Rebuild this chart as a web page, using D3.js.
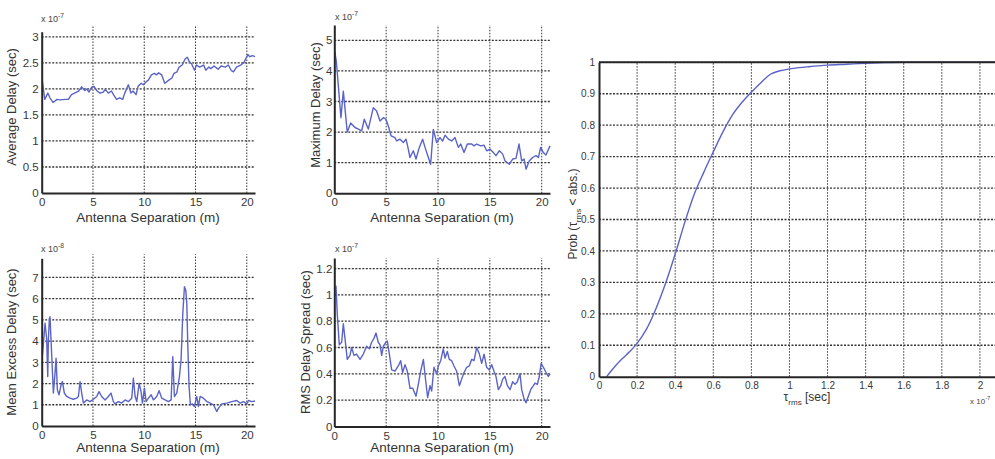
<!DOCTYPE html>
<html>
<head>
<meta charset="utf-8">
<script src="https://cdn.jsdelivr.net/npm/d3@7"></script>
<style>
  html, body { margin: 0; padding: 0; background: #fff; }
  svg { display: block; font-family: "Liberation Sans", Arial, sans-serif; }
  .tick text { fill: #383838; }
</style>
</head>
<body>
<svg id="fig" width="995" height="459"></svg>
<script>
// Antenna separation (m) and measured delay statistics
const avgSep = [0.07,0.3,0.6,0.8,1.1,1.5,1.8,2.3,2.6,2.9,3.2,3.6,3.9,4.2,4.4,4.6,4.9,5.1,5.4,5.7,6.0,6.2,6.5,6.8,7.0,7.3,7.6,7.9,8.1,8.45,8.7,8.9,9.2,9.4,9.7,9.9,10.2,10.4,10.7,11.0,11.2,11.4,11.7,12.0,12.4,12.7,12.9,13.2,13.4,13.7,14.0,14.2,14.4,14.6,14.9,15.1,15.4,15.8,16.0,16.3,16.5,16.8,17.2,17.5,17.9,18.2,18.5,18.7,19.0,19.4,19.7,19.9,20.1,20.3,20.55,20.8];
const avgDelay = [2.14,1.80,1.92,1.83,1.74,1.80,1.79,1.80,1.80,1.89,1.92,1.96,2.04,1.97,2.0,1.94,2.04,2.05,1.96,1.92,1.94,1.99,1.92,1.96,1.89,1.80,1.83,1.80,1.92,2.08,1.92,1.96,1.89,2.05,2.11,2.08,2.14,2.17,2.27,2.30,2.27,2.31,2.27,2.11,2.17,2.21,2.30,2.33,2.42,2.46,2.58,2.61,2.52,2.49,2.36,2.46,2.42,2.46,2.36,2.42,2.39,2.44,2.38,2.44,2.42,2.46,2.35,2.33,2.42,2.46,2.50,2.58,2.66,2.62,2.64,2.62];

const maxSep = [0.05,0.2,0.64,0.87,1.25,1.58,1.99,2.32,2.64,2.89,3.28,3.76,4.08,4.41,4.73,4.98,5.21,5.47,5.85,6.01,6.33,6.66,6.91,7.07,7.3,7.62,7.88,8.2,8.52,8.75,9.07,9.29,9.55,9.87,10.19,10.45,10.68,11.0,11.32,11.64,11.96,12.19,12.51,12.83,13.25,13.47,13.73,14.12,14.44,14.69,15.02,15.34,15.59,15.92,16.24,16.46,16.88,17.2,17.52,17.81,18.07,18.3,18.49,18.81,19.13,19.45,19.68,19.9,20.16,20.41,20.8];
const maxDelay = [4.62,4.3,2.47,3.34,2.0,2.3,2.15,2.1,2.04,2.42,2.1,2.8,2.69,2.36,2.47,2.42,2.2,1.88,1.82,1.71,1.77,1.66,1.77,1.55,1.17,1.39,1.12,1.5,1.77,1.5,1.17,0.95,2.09,1.66,1.82,1.71,1.9,1.77,1.71,1.82,1.5,1.61,1.33,1.61,1.61,1.55,1.61,1.55,1.57,1.39,1.44,1.33,1.23,1.39,1.28,1.06,0.95,1.12,1.14,1.61,1.06,1.12,0.79,1.06,1.17,1.23,1.17,1.5,1.33,1.25,1.55];

const mexSep = [0.07,0.33,0.49,0.59,0.65,0.75,0.81,0.91,1.04,1.14,1.30,1.40,1.53,1.69,1.89,2.02,2.21,2.44,2.76,3.09,3.41,3.58,3.74,3.90,4.07,4.39,4.72,5.04,5.37,5.59,5.85,6.18,6.50,6.76,6.99,7.15,7.48,7.80,8.13,8.46,8.78,8.94,9.11,9.27,9.50,9.69,9.82,10.02,10.18,10.41,10.67,10.89,11.22,11.45,11.71,12.03,12.36,12.62,12.78,12.94,13.17,13.43,13.59,13.76,13.92,14.05,14.15,14.24,14.37,14.50,14.70,14.89,15.12,15.28,15.45,15.77,16.10,16.42,16.75,17.07,17.24,17.56,18.05,18.54,19.02,19.35,19.67,20.0,20.16,20.49,20.8];
const mexDelay = [3.35,4.84,4.05,2.33,4.05,5.07,5.15,4.05,2.64,1.55,2.49,3.19,1.70,1.47,1.94,2.09,1.55,1.39,1.31,1.26,1.31,1.39,2.09,1.55,1.08,1.23,1.15,1.26,1.39,1.62,1.39,1.23,1.39,1.55,1.15,1.04,1.15,1.08,1.23,1.15,1.31,2.25,1.39,1.15,2.02,1.62,1.08,1.78,1.15,1.31,1.47,1.23,1.39,1.66,1.31,1.23,1.15,1.23,3.27,1.39,1.55,2.33,3.11,5.31,6.56,6.40,5.78,3.9,1.86,1.0,1.04,0.92,1.39,0.92,1.39,1.31,1.15,1.08,1.0,0.68,0.84,1.04,1.08,1.15,1.2,1.08,1.15,1.04,1.2,1.15,1.18];

const rmsSep = [0.16,0.29,0.48,0.71,0.87,1.03,1.25,1.51,1.67,1.90,2.15,2.48,2.80,3.12,3.38,3.60,3.83,4.02,4.24,4.41,4.57,4.73,4.98,5.11,5.31,5.53,5.85,6.17,6.40,6.59,6.82,7.04,7.30,7.56,7.88,8.10,8.33,8.59,8.78,9.00,9.23,9.39,9.61,9.87,10.03,10.26,10.51,10.68,10.90,11.09,11.32,11.54,11.80,12.06,12.28,12.51,12.77,13.02,13.25,13.47,13.73,13.99,14.21,14.44,14.69,14.95,15.18,15.40,15.59,15.82,16.05,16.24,16.46,16.69,16.95,17.20,17.43,17.65,17.91,18.07,18.30,18.49,18.71,18.94,19.20,19.36,19.58,19.77,19.94,20.16,20.42,20.64,20.80];
const rmsSpread = [1.07,0.85,0.62,0.64,0.78,0.67,0.51,0.54,0.60,0.54,0.55,0.51,0.55,0.61,0.59,0.64,0.67,0.71,0.64,0.62,0.54,0.61,0.64,0.65,0.55,0.43,0.42,0.46,0.50,0.41,0.47,0.42,0.29,0.29,0.23,0.32,0.42,0.51,0.37,0.22,0.31,0.27,0.45,0.40,0.46,0.50,0.59,0.52,0.57,0.51,0.50,0.46,0.42,0.31,0.36,0.41,0.45,0.46,0.51,0.50,0.60,0.55,0.48,0.55,0.45,0.43,0.47,0.42,0.38,0.28,0.31,0.36,0.38,0.31,0.28,0.34,0.32,0.34,0.40,0.28,0.21,0.18,0.23,0.28,0.31,0.33,0.32,0.38,0.48,0.45,0.41,0.38,0.40];

// Cumulative distribution of the RMS delay spread (x 1e-7 s)
const tauRms = [0.04,0.08,0.12,0.16,0.2,0.25,0.3,0.35,0.4,0.45,0.5,0.55,0.6,0.65,0.7,0.75,0.8,0.85,0.9,0.95,1.0,1.05,1.1,1.2,1.3,1.4,1.5,1.6,1.8,2.0,2.2];
const probTau = [0,0.03,0.056,0.079,0.106,0.152,0.218,0.298,0.39,0.49,0.58,0.65,0.715,0.778,0.832,0.872,0.905,0.935,0.962,0.973,0.979,0.983,0.986,0.991,0.994,0.997,0.999,1,1,1,1];

// Tick values and labels
const sepTicks = [0, 5, 10, 15, 20];
const sepTickLabels = ["0", "5", "10", "15", "20"];
const avgTicks = [0, 0.5, 1, 1.5, 2, 2.5, 3];
const avgTickLabels = ["0", "0.5", "1", "1.5", "2", "2.5", "3"];
const maxTicks = [0, 1, 2, 3, 4, 5];
const maxTickLabels = ["0", "1", "2", "3", "4", "5"];
const mexTicks = [0, 1, 2, 3, 4, 5, 6, 7];
const mexTickLabels = ["0", "1", "2", "3", "4", "5", "6", "7"];
const rmsTicks = [0, 0.2, 0.4, 0.6, 0.8, 1, 1.2];
const rmsTickLabels = ["0", "0.2", "0.4", "0.6", "0.8", "1", "1.2"];
const tauTicks = [0, 0.2, 0.4, 0.6, 0.8, 1, 1.2, 1.4, 1.6, 1.8, 2];
const tauTickLabels = ["0", "0.2", "0.4", "0.6", "0.8", "1", "1.2", "1.4", "1.6", "1.8", "2"];
const probTicks = [0, 0.1, 0.2, 0.3, 0.4, 0.5, 0.6, 0.7, 0.8, 0.9, 1];
const probTickLabels = ["0", "0.1", "0.2", "0.3", "0.4", "0.5", "0.6", "0.7", "0.8", "0.9", "1"];

const LINE = "#5a63c6";
const AXIS = "#262626";
const GRID = "#333";

const svg = d3.select("#fig");
svg.append("rect").attr("width", 995).attr("height", 459).attr("fill", "#fff");

function drawPanel(p) {
  const x = d3.scaleLinear().domain(p.xd).range([p.left, p.right]);
  const y = d3.scaleLinear().domain(p.yd).range([p.bottom, p.top]);
  const g = svg.append("g");

  // dotted grid
  g.selectAll(".vg").data(p.xt.filter(d => d > 0)).join("line")
    .attr("x1", d => x(d)).attr("x2", d => x(d))
    .attr("y1", p.bottom).attr("y2", p.top - (p.gridOver || 0))
    .attr("stroke", GRID).attr("stroke-width", 1).attr("stroke-dasharray", "1.5,1.5");
  g.selectAll(".hg").data(p.yt.filter(d => d > 0)).join("line")
    .attr("x1", p.left).attr("x2", p.right)
    .attr("y1", d => y(d)).attr("y2", d => y(d))
    .attr("stroke", GRID).attr("stroke-width", 1.3).attr("stroke-dasharray", "2,1.5");

  // data line
  const line = d3.line().x((d, i) => x(p.xs[i])).y(d => y(d));
  if (p.curve) line.curve(p.curve);
  g.append("path").datum(p.ys)
    .attr("d", line).attr("fill", "none")
    .attr("stroke", LINE).attr("stroke-width", 1.4).attr("stroke-linejoin", "round");

  // axes
  const xa = g.append("g").attr("transform", `translate(0,${p.bottom})`)
    .call(d3.axisBottom(x).tickValues(p.xt).tickFormat((d, i) => p.xtl[i])
      .tickSize(0).tickSizeOuter(0).tickPadding(p.xPad || 5));
  const ya = g.append("g").attr("transform", `translate(${p.left},0)`)
    .call(d3.axisLeft(y).tickValues(p.yt).tickFormat((d, i) => p.ytl[i])
      .tickSize(0).tickSizeOuter(0).tickPadding(p.yPad || 3));
  [xa, ya].forEach(a => {
    a.select(".domain").attr("stroke", AXIS).attr("stroke-width", 2);
    a.selectAll("text").attr("font-size", p.tickSize || 11.5)
      .attr("font-family", "Liberation Sans, Arial, sans-serif");
  });
  if (p.box) {
    g.append("line").attr("x1", p.left).attr("x2", p.right)
      .attr("y1", p.top).attr("y2", p.top)
      .attr("stroke", AXIS).attr("stroke-width", 2);
  }
  return { g, x, y };
}

function expLabel(xp, yp, power, size) {
  const t = svg.append("text").attr("x", xp).attr("y", yp)
    .attr("font-size", size).attr("fill", "#444");
  t.append("tspan").text("x 10");
  t.append("tspan").attr("dy", -4).attr("font-size", size * 0.75).text(power);
}

function xTitle(xp, yp, text, size) {
  svg.append("text").attr("x", xp).attr("y", yp).attr("text-anchor", "middle")
    .attr("font-size", size).attr("fill", "#333").text(text);
}

function yTitle(xp, yp, text, size) {
  svg.append("text").attr("transform", `translate(${xp},${yp}) rotate(-90)`)
    .attr("text-anchor", "middle").attr("font-size", size).attr("fill", "#333").text(text);
}

// Average delay
drawPanel({ left: 41.7, right: 255, top: 31.7, bottom: 193, xd: [0, 20.8], yd: [0, 3.1],
  xt: sepTicks, xtl: sepTickLabels, yt: avgTicks, ytl: avgTickLabels,
  xs: avgSep, ys: avgDelay, gridOver: 6 });
expLabel(41, 22, "-7", 9);
xTitle(148, 222, "Antenna Separation (m)", 13.5);
yTitle(16, 107, "Average Delay (sec)", 13);

// Maximum delay
drawPanel({ left: 334.3, right: 550, top: 25, bottom: 193.3, xd: [0, 20.8], yd: [0, 5.5],
  xt: sepTicks, xtl: sepTickLabels, yt: maxTicks, ytl: maxTickLabels,
  xs: maxSep, ys: maxDelay, yPad: 2 });
expLabel(335, 20, "-7", 9);
xTitle(442, 222, "Antenna Separation (m)", 13.5);
yTitle(320, 105, "Maximum Delay (sec)", 13);

// Mean excess delay
drawPanel({ left: 41.7, right: 255, top: 258.3, bottom: 426, xd: [0, 20.8], yd: [0, 7.9],
  xt: sepTicks, xtl: sepTickLabels, yt: mexTicks, ytl: mexTickLabels,
  xs: mexSep, ys: mexDelay, gridOver: 4 });
expLabel(41, 252, "-8", 9);
xTitle(148, 452, "Antenna Separation (m)", 13.5);
yTitle(16, 342, "Mean Excess Delay (sec)", 13);

// RMS delay spread
drawPanel({ left: 334.3, right: 550, top: 258, bottom: 426.5, xd: [0, 20.8], yd: [0, 1.28],
  xt: sepTicks, xtl: sepTickLabels, yt: rmsTicks, ytl: rmsTickLabels,
  xs: rmsSep, ys: rmsSpread, yPad: 2 });
expLabel(335, 252, "-7", 9);
xTitle(442, 452, "Antenna Separation (m)", 13.5);
yTitle(310, 342, "RMS Delay Spread (sec)", 13);

// CDF of RMS delay spread
drawPanel({ left: 599, right: 1018, top: 62.3, bottom: 376.7, xd: [0, 2.2], yd: [0, 1],
  xt: tauTicks, xtl: tauTickLabels, yt: probTicks, ytl: probTickLabels,
  xs: tauRms, ys: probTau, curve: d3.curveMonotoneX, box: true,
  tickSize: 10, xPad: 5, yPad: 4 });
expLabel(970, 404, "-7", 8);

const tx = svg.append("text").attr("x", 807).attr("y", 401).attr("text-anchor", "middle")
  .attr("font-size", 12).attr("fill", "#333");
tx.append("tspan").text("τ");
tx.append("tspan").attr("dy", 4).attr("font-size", 8).text("rms");
tx.append("tspan").attr("dy", -4).text(" [sec]");

const ty = svg.append("text").attr("transform", "translate(577,214) rotate(-90)")
  .attr("text-anchor", "middle").attr("font-size", 12).attr("fill", "#333");
ty.append("tspan").text("Prob (τ");
ty.append("tspan").attr("dy", 4).attr("font-size", 8).text("rms");
ty.append("tspan").attr("dy", -4).text(" < abs.)");
</script>
</body>
</html>
